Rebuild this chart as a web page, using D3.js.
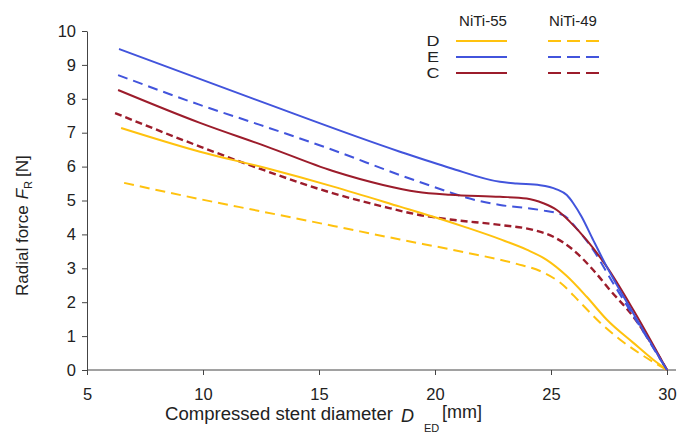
<!DOCTYPE html>
<html><head><meta charset="utf-8">
<script src="https://cdn.jsdelivr.net/npm/d3@7"></script>
<style>body{margin:0;background:#fff;} text{font-family:Arial,"Liberation Sans",sans-serif;}</style>
</head><body><svg id="c" width="679" height="435"></svg>
<script>
const xTicks = [5,10,15,20,25,30];
const yTicks = [0,1,2,3,4,5,6,7,8,9,10];
const groupLabels = ["NiTi-55","NiTi-49"];
const designLabels = ["D","E","C"];

// [diameter, force]
const D55 = [[6.47,7.14],[9.87,6.44],[12.75,5.95],[15.62,5.41],[18.49,4.82],[19.93,4.52],[21.37,4.2],[22.8,3.86],[23.95,3.55],[24.81,3.25],[25.67,2.78],[26.54,2.16],[27.4,1.49],[28.55,0.8],[29.41,0.3],[30,0]];
const D49 = [[6.6,5.52],[9.87,5.04],[12.5,4.68],[15.62,4.25],[18.49,3.85],[20.65,3.56],[21.37,3.46],[23.52,3.13],[24.53,2.92],[25.39,2.58],[26.25,2.0],[27.11,1.4],[27.97,0.9],[28.84,0.48],[30,0]];
const E55 = [[6.38,9.47],[12.33,7.96],[18.49,6.44],[20.65,5.96],[22.8,5.55],[23.52,5.5],[24.53,5.45],[25.24,5.33],[25.68,5.16],[25.96,4.92],[26.32,4.52],[26.82,3.83],[27.4,3.05],[28.55,1.67],[30,0]];
const E49 = [[6.34,8.7],[9.87,7.82],[12.46,7.23],[15.6,6.49],[18.49,5.75],[20.65,5.24],[21.37,5.08],[22.8,4.87],[24.53,4.72],[25.53,4.57],[26.1,4.18],[26.82,3.54],[27.68,2.56],[28.84,1.28],[30,0]];
const C55 = [[6.34,8.26],[9.87,7.29],[12.75,6.59],[15.6,5.87],[17.76,5.46],[19.21,5.26],[20.65,5.17],[22.8,5.11],[23.95,5.06],[24.67,4.92],[25.25,4.72],[25.82,4.37],[26.54,3.83],[27.4,3.05],[28.55,1.77],[30,0]];
const C49 = [[6.21,7.58],[9.87,6.59],[12.6,5.9],[15.62,5.21],[17.77,4.82],[19.21,4.59],[20.65,4.44],[22.8,4.28],[24.24,4.13],[25.1,3.93],[25.96,3.54],[26.82,2.95],[27.54,2.36],[28.55,1.57],[30,0]];

const colors = {D:"#FFC20E", E:"#4254DC", C:"#9C1C2B"};
const series = [
  {d:D49, c:colors.D, dash:"10,6", w:2},
  {d:C49, c:colors.C, dash:"7,4", w:2.4},
  {d:E49, c:colors.E, dash:"10,6", w:2},
  {d:D55, c:colors.D, dash:null, w:2},
  {d:C55, c:colors.C, dash:null, w:2},
  {d:E55, c:colors.E, dash:null, w:2}
];

const svg = d3.select("#c");
const x = d3.scaleLinear().domain([5,30]).range([87,667]);
const y = d3.scaleLinear().domain([0,10]).range([370,31]);

// axes
const xa = svg.append("g").attr("transform","translate(0,370)")
  .call(d3.axisBottom(x).tickValues(xTicks).tickSize(5).tickSizeOuter(0).tickPadding(13));
const ya = svg.append("g").attr("transform","translate(87,0)")
  .call(d3.axisLeft(y).tickValues(yTicks).tickSize(5).tickSizeOuter(0).tickPadding(6));
[xa,ya].forEach(a=>{
  a.select(".domain").attr("stroke","#444");
  a.selectAll(".tick line").attr("stroke","#444");
  a.selectAll("text").attr("font-size",16.5).attr("fill","#222");
});
xa.select(".domain").attr("d","M87,0H676");

const line = d3.line().x(d=>x(d[0])).y(d=>y(d[1])).curve(d3.curveMonotoneX);
svg.append("g").selectAll("path").data(series).join("path")
  .attr("d",s=>line(s.d)).attr("fill","none")
  .attr("stroke",s=>s.c).attr("stroke-width",s=>s.w)
  .attr("stroke-dasharray",s=>s.dash);

// axis titles
const tcol = "#222";
svg.append("text").attr("x",165).attr("y",420).attr("font-size",18).attr("fill",tcol)
  .attr("textLength",228).attr("lengthAdjust","spacingAndGlyphs").text("Compressed stent diameter");
svg.append("text").attr("x",401).attr("y",422).attr("font-size",18).attr("font-style","italic").attr("fill",tcol).text("D");
svg.append("text").attr("x",424).attr("y",432).attr("font-size",11).attr("fill",tcol).text("ED");
svg.append("text").attr("x",442).attr("y",418).attr("font-size",18).attr("fill",tcol).text("[mm]");

const yt = svg.append("text").attr("transform","translate(28,296) rotate(-90)")
  .attr("font-size",17).attr("fill",tcol);
yt.append("tspan").text("Radial force");
yt.append("tspan").attr("dx",6).attr("font-style","italic").text("F");
yt.append("tspan").attr("font-size",11).attr("dy",4).text("R");
yt.append("tspan").attr("dy",-4).attr("dx",4).text("[N]");

// legend
const lg = svg.append("g");
lg.selectAll("text.g").data(groupLabels).join("text").attr("class","g")
  .attr("x",(d,i)=>[483,573][i]).attr("y",26).attr("text-anchor","middle")
  .attr("font-size",15).attr("fill",tcol).text(d=>d);
const ly = [41,57,73];
designLabels.forEach((k,i)=>{
  lg.append("text").attr("transform",`translate(433,${ly[i]}) scale(1,0.8)`)
    .attr("text-anchor","middle").attr("dominant-baseline","central")
    .attr("font-size",18).attr("fill",tcol).text(k);
  lg.append("line").attr("x1",456).attr("x2",507).attr("y1",ly[i]).attr("y2",ly[i])
    .attr("stroke",colors[k]).attr("stroke-width",2);
  lg.append("line").attr("x1",548).attr("x2",600).attr("y1",ly[i]).attr("y2",ly[i])
    .attr("stroke",colors[k]).attr("stroke-width",2).attr("stroke-dasharray","13,6");
});
</script></body></html>
